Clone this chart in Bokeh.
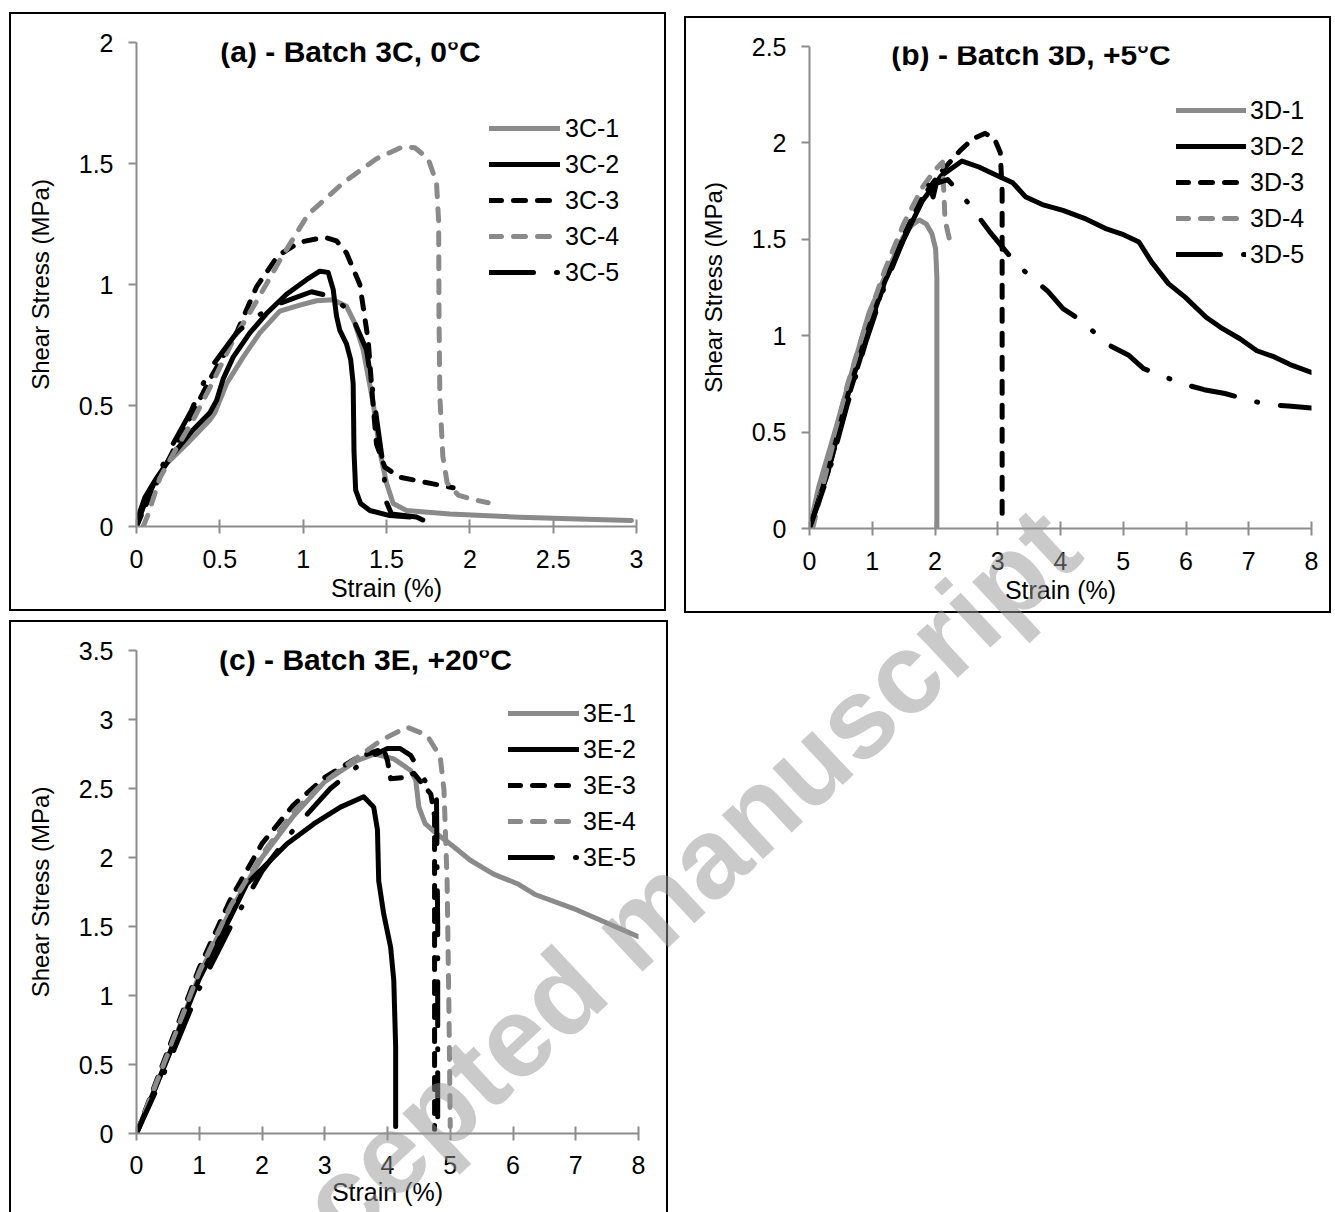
from bokeh.plotting import figure
from bokeh.models import Range1d, FixedTicker, Legend, LegendItem, Label, Div
from bokeh.layouts import row, column
from bokeh.embed import file_html
from bokeh.resources import INLINE

# ---------------- data ----------------
# Panel (a) - Batch 3C, 0 C
a_title = "(a) - Batch 3C, 0°C"
a_names = ["3C-1", "3C-2", "3C-3", "3C-4", "3C-5"]
a_x_ticks = [0, 0.5, 1, 1.5, 2, 2.5, 3]
a_x_labels = ["0", "0.5", "1", "1.5", "2", "2.5", "3"]
a_y_ticks = [0, 0.5, 1, 1.5, 2]
a_y_labels = ["0", "0.5", "1", "1.5", "2"]

a1_x = [0, 0.03, 0.08, 0.18, 0.30, 0.44, 0.47, 0.54, 0.64, 0.74, 0.86, 0.98, 1.08, 1.18, 1.26, 1.31,
        1.36, 1.42, 1.46, 1.50, 1.54, 1.62, 1.88, 2.3, 2.7, 2.97]
a1_y = [0, 0.06, 0.15, 0.26, 0.34, 0.44, 0.47, 0.59, 0.70, 0.80, 0.89, 0.915, 0.933, 0.937, 0.91, 0.84,
        0.73, 0.51, 0.31, 0.18, 0.095, 0.066, 0.052, 0.038, 0.03, 0.025]
a2_x = [0, 0.02, 0.05, 0.12, 0.22, 0.34, 0.44, 0.48, 0.52, 0.58, 0.68, 0.78, 0.90, 1.02, 1.10, 1.15,
        1.18, 1.20, 1.22, 1.26, 1.285, 1.30, 1.305, 1.315, 1.345, 1.40, 1.52, 1.64]
a2_y = [0, 0.06, 0.12, 0.20, 0.30, 0.40, 0.47, 0.52, 0.61, 0.70, 0.80, 0.88, 0.96, 1.02, 1.055, 1.05,
        0.98, 0.87, 0.81, 0.755, 0.69, 0.59, 0.31, 0.15, 0.095, 0.066, 0.045, 0.039]
a3_x = [0, 0.05, 0.15, 0.30, 0.45, 0.60, 0.72, 0.85, 0.98, 1.13, 1.20, 1.26, 1.34, 1.39, 1.415, 1.44,
        1.49, 1.58, 1.78, 1.90]
a3_y = [0, 0.08, 0.22, 0.42, 0.62, 0.80, 0.99, 1.12, 1.175, 1.195, 1.18, 1.13, 1.0, 0.77, 0.54, 0.34,
        0.245, 0.204, 0.176, 0.16]
a4_x = [0.04, 0.07, 0.14, 0.22, 0.34, 0.46, 0.58, 0.72, 0.86, 1.03, 1.24, 1.44, 1.60, 1.67, 1.75, 1.80,
        1.813, 1.815, 1.82, 1.838, 1.864, 1.93, 2.0, 2.11]
a4_y = [0.0, 0.05, 0.20, 0.30, 0.44, 0.60, 0.77, 0.93, 1.10, 1.29, 1.42, 1.52, 1.57, 1.565, 1.52, 1.42,
        1.26, 0.87, 0.54, 0.29, 0.18, 0.13, 0.115, 0.098]
a5_x = [0, 0.04, 0.10, 0.21, 0.33, 0.38, 0.44, 0.60, 0.70, 0.85, 1.05, 1.17, 1.28, 1.38, 1.42, 1.48,
        1.50, 1.53, 1.68, 1.74]
a5_y = [0, 0.08, 0.17, 0.33, 0.48, 0.56, 0.65, 0.80, 0.86, 0.92, 0.97, 0.95, 0.89, 0.73, 0.55, 0.25,
        0.10, 0.052, 0.039, 0.02]

# Panel (b) - Batch 3D, +5 C
b_title = "(b) - Batch 3D, +5°C"
b_names = ["3D-1", "3D-2", "3D-3", "3D-4", "3D-5"]
b_x_ticks = [0, 1, 2, 3, 4, 5, 6, 7, 8]
b_x_labels = ["0", "1", "2", "3", "4", "5", "6", "7", "8"]
b_y_ticks = [0, 0.5, 1, 1.5, 2, 2.5]
b_y_labels = ["0", "0.5", "1", "1.5", "2", "2.5"]

b1_x = [0, 0.15, 0.42, 0.69, 0.95, 1.22, 1.49, 1.62, 1.75, 1.86, 1.95, 2.01, 2.03, 2.03]
b1_y = [0, 0.22, 0.52, 0.83, 1.12, 1.32, 1.51, 1.57, 1.60, 1.58, 1.53, 1.45, 1.3, 0]
b2_x = [0, 0.3, 0.6, 0.9, 1.2, 1.5, 1.8, 2.1, 2.43, 2.70, 2.97, 3.24, 3.44, 3.71, 4.04, 4.38, 4.71,
        4.98, 5.25, 5.45, 5.72, 5.99, 6.32, 6.59, 6.86, 7.13, 7.40, 7.66, 8.0]
b2_y = [0, 0.30, 0.68, 1.00, 1.28, 1.50, 1.70, 1.83, 1.906, 1.875, 1.834, 1.793, 1.721, 1.68, 1.65,
        1.609, 1.557, 1.527, 1.486, 1.383, 1.27, 1.199, 1.096, 1.035, 0.984, 0.922, 0.891, 0.85, 0.809]
b3_x = [0, 0.3, 0.6, 0.9, 1.2, 1.5, 1.8, 2.1, 2.4, 2.6, 2.8, 2.95, 3.04, 3.07, 3.07, 3.07]
b3_y = [0, 0.30, 0.66, 0.98, 1.28, 1.52, 1.72, 1.85, 1.96, 2.02, 2.05, 2.02, 1.95, 1.75, 0.8, 0.04]
b4_x = [0.05, 0.3, 0.6, 0.9, 1.2, 1.5, 1.8, 2.0, 2.12, 2.14, 2.16, 2.23]
b4_y = [0, 0.34, 0.74, 1.06, 1.34, 1.58, 1.77, 1.86, 1.90, 1.75, 1.6, 1.5]
b5_x = [0, 0.3, 0.6, 0.9, 1.2, 1.5, 1.8, 1.9, 1.97, 2.02, 2.2, 2.43, 2.87, 3.3, 3.8, 4.04, 4.28, 4.78,
        5.08, 5.32, 5.95, 6.29, 6.62, 7.26, 7.63, 8.0]
b5_y = [0, 0.28, 0.64, 0.97, 1.26, 1.5, 1.71, 1.78, 1.72, 1.79, 1.81, 1.73, 1.54, 1.37, 1.23, 1.14,
        1.09, 0.95, 0.90, 0.83, 0.75, 0.72, 0.70, 0.645, 0.635, 0.625]

# Panel (c) - Batch 3E, +20 C
c_title = "(c) - Batch 3E, +20°C"
c_names = ["3E-1", "3E-2", "3E-3", "3E-4", "3E-5"]
c_x_ticks = [0, 1, 2, 3, 4, 5, 6, 7, 8]
c_x_labels = ["0", "1", "2", "3", "4", "5", "6", "7", "8"]
c_y_ticks = [0, 0.5, 1, 1.5, 2, 2.5, 3, 3.5]
c_y_labels = ["0", "0.5", "1", "1.5", "2", "2.5", "3", "3.5"]

c1_x = [0, 0.5, 1.0, 1.5, 2.0, 2.5, 3.0, 3.5, 3.8, 4.1, 4.37, 4.45, 4.5, 4.6, 4.79, 5.06, 5.32, 5.69,
        6.07, 6.35, 7.02, 8.0]
c1_y = [0, 0.55, 1.15, 1.62, 2.0, 2.3, 2.55, 2.7, 2.75, 2.715, 2.63, 2.56, 2.365, 2.245, 2.17, 2.076,
        1.98, 1.88, 1.81, 1.732, 1.62, 1.426]
c2_x = [0, 0.5, 1.0, 1.5, 1.76, 2.08, 2.4, 2.83, 3.25, 3.62, 3.78, 3.84, 3.86, 3.94, 4.05, 4.10, 4.13, 4.13]
c2_y = [0, 0.55, 1.12, 1.57, 1.81, 1.955, 2.1, 2.245, 2.365, 2.44, 2.365, 2.2, 1.83, 1.59, 1.35, 1.11,
        0.63, 0.05]
c3_x = [0, 0.5, 1.0, 1.5, 2.0, 2.5, 3.0, 3.5, 3.94, 4.0, 4.05, 4.26, 4.42, 4.69, 4.75, 4.75, 4.75]
c3_y = [0, 0.60, 1.20, 1.70, 2.10, 2.38, 2.58, 2.72, 2.79, 2.70, 2.57, 2.58, 2.61, 2.46, 2.3, 1.0, 0.03]
c4_x = [0, 0.5, 1.0, 1.5, 2.0, 2.5, 3.0, 3.5, 3.9, 4.31, 4.63, 4.84, 4.9, 4.95, 4.98, 5.0]
c4_y = [0, 0.58, 1.17, 1.65, 2.02, 2.33, 2.55, 2.72, 2.85, 2.945, 2.885, 2.73, 2.49, 1.83, 0.87, 0.05]
c5_x = [0, 0.5, 1.0, 1.5, 2.0, 2.5, 2.85, 3.09, 3.68, 4.0, 4.2, 4.37, 4.63, 4.78, 4.80, 4.80]
c5_y = [0, 0.50, 1.05, 1.50, 1.90, 2.2, 2.38, 2.5, 2.72, 2.79, 2.79, 2.74, 2.53, 2.45, 1.5, 0.05]

watermark_text = "Accepted manuscript"

# ---------------- styling ----------------
FONT = "Liberation Sans"
GRAY = "#8a8a8a"
BLACK = "#000000"
AXIS = "#8c8c8c"
LW = 5
STYLES = [
    dict(line_color=GRAY, line_dash="solid"),
    dict(line_color=BLACK, line_dash="solid"),
    dict(line_color=BLACK, line_dash="12 12"),
    dict(line_color=GRAY, line_dash="12 12"),
    dict(line_color=BLACK, line_dash="44 23 1 23"),
]


def make_panel(width, height, borders, margin, xr, yr, xt, xl, yt, yl,
               series, names, title, title_xy, legend_loc, glyph_w, standoff,
               tick_standoff=16, xlabel_standoff=3, frame_css=None):
    bl, br, bt, bb = borders
    p = figure(width=width, height=height, x_range=Range1d(*xr), y_range=Range1d(*yr),
               output_backend="svg", toolbar_location=None, tools="",
               min_border_left=bl, min_border_right=br, min_border_top=bt,
               min_border_bottom=bb, margin=margin)
    p.outline_line_color = None
    p.xgrid.visible = False
    p.ygrid.visible = False
    p.background_fill_color = None
    p.border_fill_color = None
    p.styles = frame_css

    xa = p.xaxis[0]
    ya = p.yaxis[0]
    for ax in (xa, ya):
        ax.axis_line_color = AXIS
        ax.axis_line_width = 2
        ax.major_tick_line_color = AXIS
        ax.major_tick_line_width = 2
        ax.minor_tick_line_color = None
        ax.major_label_text_font = FONT
        ax.major_label_text_font_size = "25px"
        ax.major_label_text_color = "#000000"
        ax.axis_label_text_font = FONT
        ax.axis_label_text_font_style = "normal"
        ax.axis_label_text_color = "#000000"
    xa.ticker = FixedTicker(ticks=xt)
    xa.major_label_overrides = {t: l for t, l in zip(xt, xl)}
    ya.ticker = FixedTicker(ticks=yt)
    ya.major_label_overrides = {t: l for t, l in zip(yt, yl)}
    xa.major_tick_in = 7
    xa.major_tick_out = 7
    xa.major_label_standoff = tick_standoff
    xa.axis_label = "Strain (%)"
    xa.axis_label_text_font_size = "25px"
    xa.axis_label_standoff = xlabel_standoff
    ya.major_tick_in = 0
    ya.major_tick_out = 8
    ya.major_label_standoff = 15
    ya.axis_label = "Shear Stress (MPa)"
    ya.axis_label_text_font_size = "24px"
    ya.axis_label_standoff = 22

    items = []
    for (sx, sy), name, st in zip(series, names, STYLES):
        r = p.line(sx, sy, line_width=LW, line_cap="round", line_join="round", **st)
        items.append(LegendItem(label=name, renderers=[r]))
    leg = Legend(items=items, location=legend_loc, orientation="vertical",
                 glyph_width=glyph_w, glyph_height=36, label_height=36, spacing=0,
                 padding=0, margin=0, label_standoff=standoff,
                 label_text_font=FONT, label_text_font_size="25px",
                 label_text_color="#000000",
                 border_line_color=None, background_fill_alpha=0)
    p.add_layout(leg, "center")

    p.add_layout(Label(x=title_xy[0], y=title_xy[1], text=title, text_font=FONT,
                       text_font_size="30px", text_font_style="bold",
                       text_color="#000000",
                       text_align="center", text_baseline="middle"))
    return p


OUTLINE = {"outline": "2px solid #000000", "outline-offset": "-2px"}
OPEN_BOTTOM = {"box-shadow": "inset 2px 2px 0 0 #000000, inset -2px 0 0 0 #000000"}

pa = make_panel(657, 599, (127, 30, 30, 85), (12, 0, 0, 9), (0, 3), (0, 2),
                a_x_ticks, a_x_labels, a_y_ticks, a_y_labels,
                [(a1_x, a1_y), (a2_x, a2_y), (a3_x, a3_y), (a4_x, a4_y), (a5_x, a5_y)],
                a_names, a_title, (1.284, 1.963), (353, 236), 71, 5, frame_css=OUTLINE)

pb = make_panel(647, 597, (125, 20, 30, 85), (16, 0, 0, 18), (0, 8), (0, 2.5),
                b_x_ticks, b_x_labels, b_y_ticks, b_y_labels,
                [(b1_x, b1_y), (b2_x, b2_y), (b3_x, b3_y), (b4_x, b4_y), (b5_x, b5_y)],
                b_names, b_title, (3.53, 2.46), (367, 256), 70, 4, frame_css=OUTLINE)

pc = make_panel(659, 592, (127, 30, 30, 79), (7, 0, 0, 9), (0, 8), (0, 3.5),
                c_x_ticks, c_x_labels, c_y_ticks, c_y_labels,
                [(c1_x, c1_y), (c2_x, c2_y), (c3_x, c3_y), (c4_x, c4_y), (c5_x, c5_y)],
                c_names, c_title, (3.65, 3.435), (372, 258), 71, 4,
                tick_standoff=15, xlabel_standoff=1, frame_css=OPEN_BOTTOM)

wm_html = (
    '<div style="position:absolute; left:-32px; top:305px; '
    'transform: translate(-50%, -50%) rotate(-43deg); '
    "font-family:'Liberation Sans'; font-weight:bold; font-size:114px; "
    'color: rgba(150,150,150,0.5); mix-blend-mode: multiply; white-space: nowrap; '
    'pointer-events: none; z-index: 100;">' + watermark_text + '</div>'
)
wm = Div(text=wm_html, width=600, height=584, margin=(7, 0, 0, 0),
         styles={"overflow": "visible", "position": "relative", "z-index": "100"})

layout = column(row(pa, pb), row(pc, wm))
open("out.html", "w").write(file_html(layout, INLINE))
